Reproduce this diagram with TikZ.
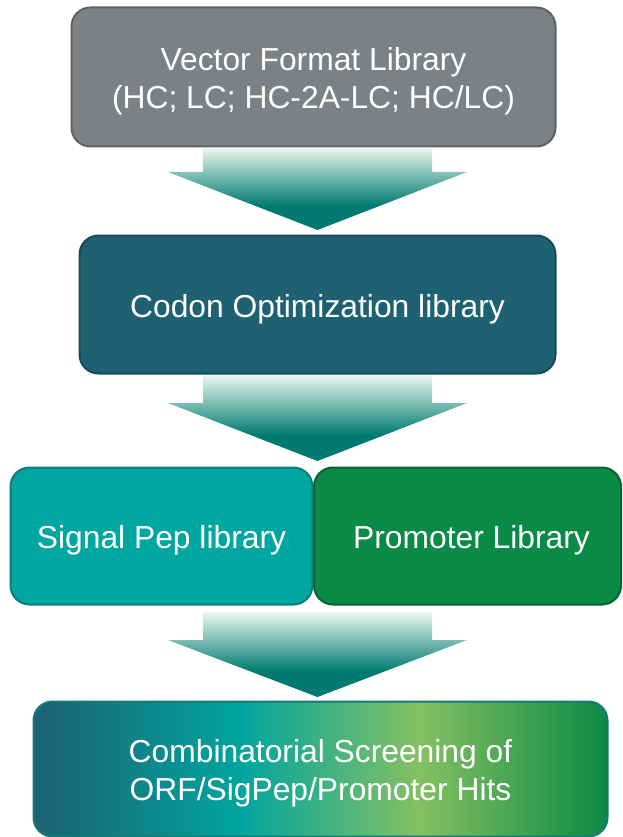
\documentclass[tikz,border=0pt]{standalone}
\usepackage{fontspec}
\setmainfont{Liberation Sans}
\definecolor{grayfill}{HTML}{7E8184}
\definecolor{graydraw}{HTML}{5E6165}
\definecolor{tealdark}{HTML}{1E6172}
\definecolor{tealdarkdraw}{HTML}{154B57}
\definecolor{tealfill}{HTML}{00A6A0}
\definecolor{tealdraw}{HTML}{0F7C7C}
\definecolor{greenfill}{HTML}{0A8A47}
\definecolor{greendraw}{HTML}{0B6134}
\definecolor{bottomdraw}{HTML}{137A78}
\definecolor{arrowlight}{HTML}{E8F8EF}
\definecolor{arrowdark}{HTML}{007A70}
\definecolor{gA}{HTML}{1D6172}
\definecolor{gB}{HTML}{00A59F}
\definecolor{gC}{HTML}{84C062}
\definecolor{gD}{HTML}{0B8A45}
\pgfdeclareverticalshading{arrowsh}{100bp}{color(0bp)=(arrowdark); color(25bp)=(arrowdark); color(40bp)=(arrowdark); color(75bp)=(arrowlight); color(100bp)=(arrowlight)}
\pgfdeclarehorizontalshading{bottomsh}{100bp}{color(0bp)=(gA); color(25bp)=(gA); color(43bp)=(gB); color(58.5bp)=(gC); color(75bp)=(gD); color(100bp)=(gD)}
\newcommand{\tpad}{\rule{0pt}{32pt}}
\tikzset{
  box/.style={rounded corners=19pt, line width=2pt, text=white, align=center,
    font=\fontsize{31.8}{38}\selectfont, inner sep=0pt},
  blockarrow/.style={shading=arrowsh, draw=none}
}
\begin{document}
\begin{tikzpicture}[x=1pt,y=-1pt]
\useasboundingbox (0,0) rectangle (622,837);
% boxes
\node[box, fill=grayfill, draw=graydraw, minimum width=484pt, minimum height=139pt] (vec) at (313.5,77) {\tpad Vector Format Library\\(HC; LC; HC-2A-LC; HC/LC)};
\node[box, fill=tealdark, draw=tealdarkdraw, minimum width=476pt, minimum height=138pt] (codon) at (317.5,304.5) {\tpad Codon Optimization library};
\node[box, fill=greenfill, draw=greendraw, minimum width=307pt, minimum height=137pt] (prom) at (467.5,536) {\tpad\hspace*{8pt}Promoter Library};
\node[box, fill=tealfill, draw=tealdraw, minimum width=302pt, minimum height=137pt] (sig) at (161.5,536) {\tpad Signal Pep library};
\node[box, shading=bottomsh, draw=bottomdraw, minimum width=574pt, minimum height=135pt] (comb) at (320.5,769) {\tpad Combinatorial Screening of\\ORF/SigPep/Promoter Hits};
% block arrows
\shade[blockarrow] (203,148) -- (432,148) -- (432,172) -- (467,172) -- (317.5,230) -- (168,172) -- (203,172) -- cycle;
\shade[blockarrow] (203,375) -- (432,375) -- (432,403) -- (467,403) -- (317.5,461) -- (168,403) -- (203,403) -- cycle;
\shade[blockarrow] (203,612) -- (432,612) -- (432,640) -- (467,640) -- (317.5,697) -- (168,640) -- (203,640) -- cycle;
\end{tikzpicture}
\end{document}
